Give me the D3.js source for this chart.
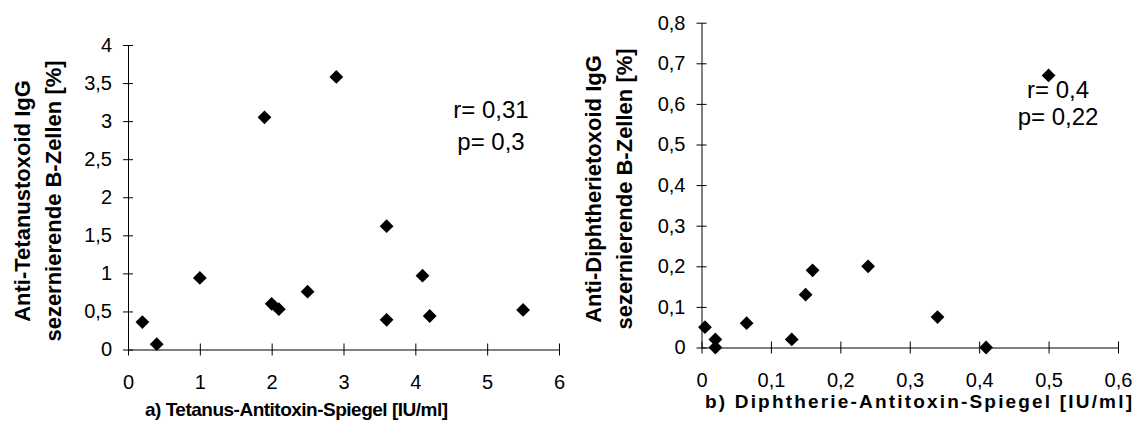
<!DOCTYPE html>
<html>
<head>
<meta charset="utf-8">
<script src="https://cdnjs.cloudflare.com/ajax/libs/d3/7.8.5/d3.min.js"></script>
<style>
  body { margin: 0; background: #fff; }
  svg { display: block; }
</style>
</head>
<body>
<div id="chart"></div>
<script>
// a) Tetanus
var tetanusX = [0.2, 0.4, 1.0, 1.9, 2.9, 2.0, 2.1, 2.5, 3.6, 3.6, 4.1, 4.2, 5.5];
var tetanusY = [0.36, 0.07, 0.94, 3.05, 3.58, 0.6, 0.53, 0.76, 1.62, 0.39, 0.97, 0.44, 0.52];
var tetanusXTicks = [0, 1, 2, 3, 4, 5, 6];
var tetanusYTicks = [0, 0.5, 1, 1.5, 2, 2.5, 3, 3.5, 4];

// b) Diphtherie
var diphX = [0.005, 0.02, 0.02, 0.065, 0.13, 0.15, 0.16, 0.24, 0.34, 0.41, 0.5];
var diphY = [0.05, 0.02, 0.0, 0.06, 0.02, 0.13, 0.19, 0.2, 0.075, 0.0, 0.67];
var diphXTicks = [0, 0.1, 0.2, 0.3, 0.4, 0.5, 0.6];
var diphYTicks = [0, 0.1, 0.2, 0.3, 0.4, 0.5, 0.6, 0.7, 0.8];

var de = d3.formatLocale({ decimal: ",", thousands: ".", grouping: [3], currency: ["", " €"] });
var fmt = de.format("~g");
var FONT = "'Liberation Sans', Arial, Helvetica, sans-serif";

var svg = d3.select("#chart")
    .append("svg")
    .attr("width", 1141)
    .attr("height", 436);

function drawPanel(opts) {
    var x = d3.scaleLinear().domain(opts.xDomain).range(opts.xRange);
    var y = d3.scaleLinear().domain(opts.yDomain).range(opts.yRange);
    var g = svg.append("g");

    // y axis, ticks cross the line
    var ya = g.append("g")
        .attr("transform", "translate(" + opts.xRange[0] + ",0)")
        .call(d3.axisLeft(y).tickValues(opts.yTicks).tickFormat(fmt)
            .tickSize(5).tickSizeOuter(0).tickPadding(11));
    ya.selectAll(".tick line").attr("x1", 5);

    // x axis
    var xa = g.append("g")
        .attr("transform", "translate(0," + opts.yRange[0] + ")")
        .call(d3.axisBottom(x).tickValues(opts.xTicks).tickFormat(fmt)
            .tickSize(6).tickSizeOuter(0));
    xa.selectAll(".tick line").attr("y1", -6);
    xa.selectAll(".tick text").attr("y", 39).attr("dy", 0);

    [ya, xa].forEach(function (a) {
        a.attr("font-size", 20).attr("font-family", FONT);
        a.selectAll("path, line").attr("stroke", "#000").attr("stroke-width", 1);
        a.selectAll("text").attr("fill", "#000");
    });

    // markers
    var sym = d3.symbol().type(d3.symbolSquare).size(95);
    g.selectAll("path.pt")
        .data(opts.xs.map(function (v, i) { return [v, opts.ys[i]]; }))
        .enter().append("path")
        .attr("class", "pt")
        .attr("d", sym)
        .attr("fill", "#000")
        .attr("transform", function (d) {
            return "translate(" + x(d[0]) + "," + y(d[1]) + ") rotate(45)";
        });

    // x title, spread out to the measured width
    var xt = g.append("text")
        .attr("x", opts.xTitle.x)
        .attr("y", opts.xTitle.y)
        .attr("font-family", FONT)
        .attr("font-size", 19)
        .attr("font-weight", "bold")
        .text(opts.xTitle.text);
    var natural = xt.node().getComputedTextLength();
    var n = opts.xTitle.text.length;
    xt.attr("letter-spacing", ((opts.xTitle.len - natural) / (n - 1)) + "px");

    // y title (two lines)
    opts.yTitle.lines.forEach(function (t, i) {
        g.append("text")
            .attr("transform", "translate(" + opts.yTitle.xs[i] + "," + opts.yTitle.cy + ") rotate(-90)")
            .attr("text-anchor", "middle")
            .attr("font-family", FONT)
            .attr("font-size", 22)
            .attr("font-weight", "bold")
            .text(t);
    });

    // r / p annotation
    opts.note.lines.forEach(function (t, i) {
        g.append("text")
            .attr("x", opts.note.x)
            .attr("y", opts.note.ys[i])
            .attr("text-anchor", "middle")
            .attr("font-family", FONT)
            .attr("font-size", 24)
            .text(t);
    });
}

drawPanel({
    xs: tetanusX, ys: tetanusY,
    xDomain: [0, 6], yDomain: [0, 4],
    xRange: [128, 559], yRange: [349.5, 45],
    xTicks: tetanusXTicks, yTicks: tetanusYTicks,
    xTitle: { text: "a) Tetanus-Antitoxin-Spiegel [IU/ml]", x: 145, y: 416, len: 303 },
    yTitle: { lines: ["Anti-Tetanustoxoid IgG", "sezernierende B-Zellen [%]"], xs: [30, 61], cy: 201 },
    note: { lines: ["r= 0,31", "p= 0,3"], x: 491, ys: [118, 150] }
});

drawPanel({
    xs: diphX, ys: diphY,
    xDomain: [0, 0.6], yDomain: [0, 0.8],
    xRange: [701.5, 1118], yRange: [347.5, 22.7],
    xTicks: diphXTicks, yTicks: diphYTicks,
    xTitle: { text: "b) Diphtherie-Antitoxin-Spiegel [IU/ml]", x: 705, y: 408, len: 427 },
    yTitle: { lines: ["Anti-Diphtherietoxoid IgG", "sezernierende B-Zellen [%]"], xs: [601, 632], cy: 189 },
    note: { lines: ["r= 0,4", "p= 0,22"], x: 1058, ys: [98, 125] }
});
</script>
</body>
</html>
